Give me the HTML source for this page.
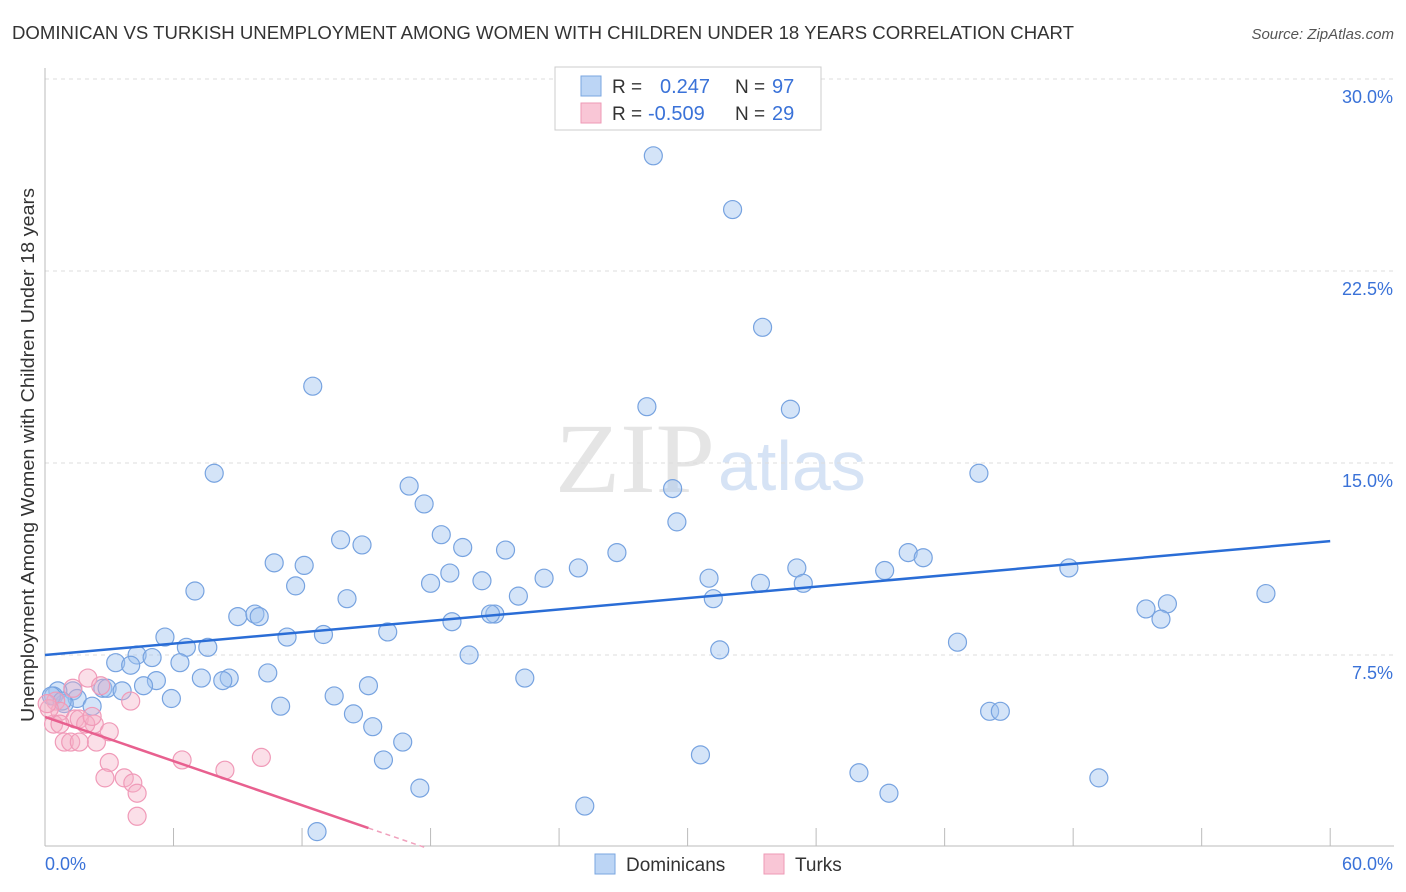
<!DOCTYPE html>
<html><head><meta charset="utf-8">
<style>
body{margin:0;background:#fff;font-family:"Liberation Sans",sans-serif;}
#wrap{position:relative;width:1406px;height:892px;overflow:hidden;}
</style></head>
<body>
<div id="wrap">
<svg id="chart" width="1406" height="892">
  <text x="12" y="39" font-size="18" fill="#333" textLength="1062" lengthAdjust="spacingAndGlyphs">DOMINICAN VS TURKISH UNEMPLOYMENT AMONG WOMEN WITH CHILDREN UNDER 18 YEARS CORRELATION CHART</text>
  <text x="1394" y="39" font-size="15" fill="#555" font-style="italic" text-anchor="end">Source: ZipAtlas.com</text>
  <text x="555" y="492" font-size="100" fill="#e5e5e5" font-family="Liberation Serif, serif" textLength="160" lengthAdjust="spacingAndGlyphs">ZIP</text>
  <text x="718" y="490" font-size="70" fill="#d6e3f5">atlas</text>
  <text transform="translate(34,455) rotate(-90)" font-size="18" fill="#333" text-anchor="middle" textLength="534" lengthAdjust="spacingAndGlyphs">Unemployment Among Women with Children Under 18 years</text>
  <g id="grid"></g>
  <g id="axes"></g>
  <g id="pts"></g>
  <g id="lines"></g>
  <g>
    <rect x="555" y="67" width="266" height="63" fill="#fff" stroke="#ccc"/>
    <rect x="581" y="76" width="20" height="20" fill="#bcd5f5" stroke="#7aa6e0"/>
    <rect x="581" y="103" width="20" height="20" fill="#f9c6d6" stroke="#ee99b6"/>
    <text x="612" y="93" font-size="19" fill="#333">R = </text>
    <text x="660" y="93" font-size="20" fill="#3a72d8">0.247</text>
    <text x="735" y="93" font-size="19" fill="#333">N = </text>
    <text x="772" y="93" font-size="20" fill="#3a72d8">97</text>
    <text x="612" y="120" font-size="19" fill="#333">R = </text>
    <text x="648" y="120" font-size="20" fill="#3a72d8">-0.509</text>
    <text x="735" y="120" font-size="19" fill="#333">N = </text>
    <text x="772" y="120" font-size="20" fill="#3a72d8">29</text>
  </g>
  <g>
    <rect x="595" y="854" width="20" height="20" fill="#bcd5f5" stroke="#7aa6e0"/>
    <text x="626" y="871" font-size="19" fill="#333">Dominicans</text>
    <rect x="764" y="854" width="20" height="20" fill="#f9c6d6" stroke="#ee99b6"/>
    <text x="795" y="871" font-size="19" fill="#333">Turks</text>
  </g>
</svg>
</div>
<script>
const blueX=[28.4,32.1,33.5,12.5,28.1,34.8,7.9,43.6,17.0,29.3,17.7,29.5,18.5,13.8,14.8,19.5,21.5,26.7,10.7,12.1,24.9,40.3,41.0,35.1,39.2,47.8,18.9,23.3,31.0,20.4,18.0,33.4,35.4,11.7,7.0,22.1,14.1,31.2,57.0,51.4,52.4,52.1,9.0,9.8,10.0,21.0,20.8,19.0,16.0,13.0,5.6,11.3,42.6,6.6,7.6,31.5,4.3,5.0,19.8,3.3,4.0,6.3,10.4,5.2,7.3,8.6,8.3,22.4,4.6,15.1,2.7,2.9,3.6,1.3,0.6,0.4,13.5,5.9,1.5,0.9,2.2,11.0,14.4,44.1,44.6,15.3,16.7,30.6,15.8,38.0,49.2,17.5,39.4,25.2,12.7,0.3,0.8];
const blueY=[27.0,24.9,20.3,18.0,17.2,17.1,14.6,14.6,14.1,14.0,13.4,12.7,12.2,12.0,11.8,11.7,11.6,11.5,11.1,11.0,10.9,11.5,11.3,10.9,10.8,10.9,10.7,10.5,10.5,10.4,10.3,10.3,10.3,10.2,10.0,9.8,9.7,9.7,9.9,9.3,9.5,8.9,9.0,9.1,9.0,9.1,9.1,8.8,8.4,8.3,8.2,8.2,8.0,7.8,7.8,7.7,7.5,7.4,7.5,7.2,7.1,7.2,6.8,6.5,6.6,6.6,6.5,6.6,6.3,6.3,6.2,6.2,6.1,6.1,6.1,5.9,5.9,5.8,5.8,5.6,5.5,5.5,5.2,5.3,5.3,4.7,4.1,3.6,3.4,2.9,2.7,2.3,2.1,1.6,0.6,5.9,5.7];
const pinkX=[2.0,1.3,2.6,4.0,0.5,0.7,1.4,1.6,2.3,3.0,0.4,0.7,1.9,0.9,1.2,2.4,1.6,3.0,6.4,10.1,8.4,2.8,3.7,4.1,4.3,4.3,0.2,0.1,2.2];
const pinkY=[6.6,6.2,6.3,5.7,5.7,5.3,5.0,5.0,4.8,4.5,4.8,4.8,4.8,4.1,4.1,4.1,4.1,3.3,3.4,3.5,3.0,2.7,2.7,2.5,2.1,1.2,5.4,5.6,5.1];
const yTicks=[7.5,15.0,22.5,30.0];
const xTickVals=[0,6,12,18,24,30,36,42,48,54,60];
const blueTrend=[7.5,11.95];
const pinkTrend=[5.08,0.74];

const NS='http://www.w3.org/2000/svg';
const X=v=>45+v*21.42, Y=v=>847-v*25.6;
function mk(t,a,p){const e=document.createElementNS(NS,t);for(const k in a)e.setAttribute(k,a[k]);p.appendChild(e);return e;}
const grid=document.getElementById('grid'),axes=document.getElementById('axes'),pts=document.getElementById('pts'),lines=document.getElementById('lines');
yTicks.forEach(v=>{
  const l=mk('line',{x1:45,x2:1394,y1:Y(v),y2:Y(v),stroke:'#ddd','stroke-dasharray':'4,4'},grid);
  
  
  const t=mk('text',{x:1393,y:Y(v)+24,'font-size':18,fill:'#3a72d8','text-anchor':'end'},grid);
  t.textContent=v.toFixed(1)+'%';
  
  
});
const ax=mk('line',{x1:45,x2:1394,y1:846,y2:846,stroke:'#bbb'},axes);


const ay=mk('line',{x1:45,x2:45,y1:68,y2:846,stroke:'#bbb'},axes);


xTickVals.forEach(v=>{
  const l=mk('line',{x1:X(v),x2:X(v),y1:828,y2:846,stroke:'#bbb'},axes);
  
  
});
[[0,'start',45],[60,'end',1393]].forEach(([v,a,px])=>{
  const t=mk('text',{x:px,y:870,'font-size':18,fill:'#3a72d8','text-anchor':a},axes);
  t.textContent=v.toFixed(1)+'%';
  
  
});
blueX.forEach((x,i)=>{
  const c=mk('circle',{cx:X(x),cy:Y(blueY[i]),r:9,fill:'rgba(160,196,240,0.45)',stroke:'#77a3e0','stroke-width':1.2},pts);
  
  
});
pinkX.forEach((x,i)=>{
  const c=mk('circle',{cx:X(x),cy:Y(pinkY[i]),r:9,fill:'rgba(246,175,198,0.4)',stroke:'#f09ab8','stroke-width':1.2},pts);
  
  
});
const bl=mk('line',{x1:X(0),y1:Y(blueTrend[0]),x2:X(60),y2:Y(blueTrend[1]),stroke:'#2a6dd6','stroke-width':2.5},lines);


const ps=(pinkTrend[1]-pinkTrend[0])/15.1;
const pl=mk('line',{x1:X(0),y1:Y(pinkTrend[0]),x2:X(15.1),y2:Y(pinkTrend[1]),stroke:'#e8608f','stroke-width':2.5},lines);


const pd=mk('line',{x1:X(15.1),y1:Y(pinkTrend[1]),x2:X(17.7),y2:Y(pinkTrend[0]+ps*17.7),stroke:'#f0a0bc','stroke-width':1.5,'stroke-dasharray':'5,4'},lines);


</script>
</body></html>
